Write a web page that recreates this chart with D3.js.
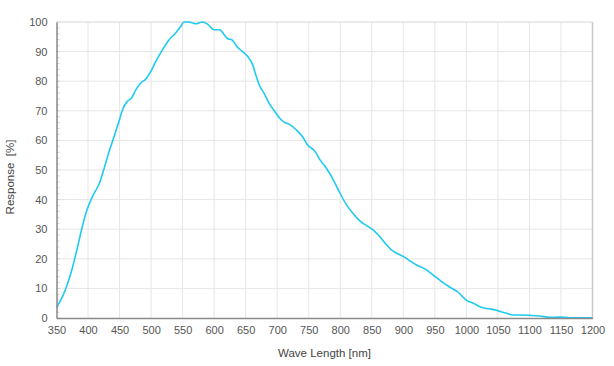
<!DOCTYPE html>
<html>
<head>
<meta charset="utf-8">
<script src="https://cdn.jsdelivr.net/npm/d3@7"></script>
<style>
  body { margin: 0; background: #fff; }
  text { font-family: "Liberation Sans", Arial, sans-serif; }
</style>
</head>
<body>
<svg id="chart" width="614" height="366"></svg>
<script>
// wavelength [nm] / response [%]
const waveLength = [350, 359.5, 367, 375, 383, 391, 397.5, 407, 418, 425.6, 433.5, 441.4, 449, 454.6, 461, 469.5,
  475.8, 483.7, 491.6, 499.6, 507.5, 518, 528.6, 539, 547, 552.4, 560, 570, 581.5, 589.4, 600, 609, 616, 621, 628,
  637, 645, 653, 661, 666, 671.4, 679, 687, 698, 704, 711, 719, 730, 740, 748, 760, 768, 778, 789, 799.5, 810,
  820.6, 831, 841.8, 852, 860, 871, 881, 892, 902.5, 910.5, 921, 934, 947.5, 960.7, 974, 987, 995, 1001, 1011,
  1021.5, 1029, 1040, 1050.5, 1063.7, 1074, 1087.5, 1100.7, 1116.6, 1132, 1148, 1164, 1200];
const response = [3.5, 7.2, 11.2, 16.8, 23.6, 30.9, 36, 41, 45.5, 50.6, 56.3, 61.3, 66.4, 70.3, 72.9, 74.5,
  77.1, 79.4, 80.7, 83.3, 86.7, 90.6, 94, 96.3, 98.5, 100, 100, 99.4, 100, 99.3, 97.4, 97.4, 95.7, 94.4, 94,
  91.5, 90, 88.4, 85.6, 82.2, 78.8, 76, 72.6, 69.2, 67.5, 66.2, 65.5, 63.6, 61.3, 58.5, 56.3, 53.4, 50.6, 46.7, 42.2, 38.2,
  35.2, 32.8, 31.2, 29.8, 28.1, 25.3, 23, 21.6, 20.5, 19.3, 17.9, 16.6, 14.5, 12.3, 10.4, 8.7, 7, 5.9, 5,
  3.8, 3.3, 3, 2.4, 1.6, 1, 1, 0.9, 0.7, 0.2, 0.3, 0.1, 0.1];
const xTicks = d3.range(350, 1201, 50);
const yTicks = d3.range(0, 101, 10);
const yMinor = d3.range(0, 101, 2);

const svg = d3.select('#chart');
const plotLeft = 56.5, plotRight = 592.5, plotTop = 22, plotBottom = 318;

const x = d3.scaleLinear().domain([350, 1200]).range([plotLeft, plotRight]);
const y = d3.scaleLinear().domain([0, 100]).range([plotBottom, plotTop]);

// grid
svg.append('g')
  .selectAll('line')
  .data(xTicks.slice(1, -1))
  .enter().append('line')
  .attr('x1', d => x(d)).attr('x2', d => x(d))
  .attr('y1', plotTop).attr('y2', plotBottom)
  .attr('stroke', '#e6e6e6');
svg.append('g')
  .selectAll('line')
  .data(yTicks.slice(1, -1))
  .enter().append('line')
  .attr('x1', plotLeft).attr('x2', plotRight)
  .attr('y1', d => y(d)).attr('y2', d => y(d))
  .attr('stroke', '#e6e6e6');

// minor ticks on the y axis
svg.append('g')
  .selectAll('line')
  .data(yMinor)
  .enter().append('line')
  .attr('x1', plotLeft).attr('x2', plotLeft + 3)
  .attr('y1', d => y(d)).attr('y2', d => y(d))
  .attr('stroke', '#cfcfcf');

// frame
svg.append('line').attr('x1', plotLeft).attr('x2', plotRight).attr('y1', plotTop).attr('y2', plotTop).attr('stroke', '#d6d6d6');
svg.append('line').attr('x1', plotRight).attr('x2', plotRight).attr('y1', plotTop).attr('y2', plotBottom)
  .attr('stroke', '#c8c8c8').attr('stroke-width', 1.5);

// curve
svg.append('path')
  .datum(waveLength.map((w, i) => [w, response[i]]))
  .attr('fill', 'none')
  .attr('stroke', '#1fcaf0')
  .attr('stroke-width', 1.6)
  .attr('d', d3.line().x(d => x(d[0])).y(d => y(d[1])).curve(d3.curveMonotoneX));

// axes
const xAxis = svg.append('g')
  .attr('transform', `translate(0,${plotBottom})`)
  .call(d3.axisBottom(x).tickValues(xTicks).tickFormat(d3.format('d')).tickSize(0).tickPadding(8));
const yAxis = svg.append('g')
  .attr('transform', `translate(${plotLeft},0)`)
  .call(d3.axisLeft(y).tickValues(yTicks).tickFormat(d3.format('d')).tickSize(0).tickPadding(9));
[xAxis, yAxis].forEach(a => {
  a.select('.domain').attr('stroke', '#8a8a8a').attr('stroke-width', 1.5);
  a.selectAll('text').attr('font-size', 11).attr('fill', '#555')
    .attr('font-family', '"Liberation Sans", Arial, sans-serif');
});

// titles
svg.append('text')
  .attr('x', (plotLeft + plotRight) / 2)
  .attr('y', 357)
  .attr('text-anchor', 'middle')
  .attr('font-size', 11.5)
  .attr('fill', '#444')
  .text('Wave Length [nm]');
svg.append('text')
  .attr('transform', 'translate(14,177) rotate(-90)')
  .attr('text-anchor', 'middle')
  .attr('font-size', 11.5)
  .attr('fill', '#444')
  .attr('xml:space', 'preserve')
  .text('Response  [%]');
</script>
</body>
</html>
